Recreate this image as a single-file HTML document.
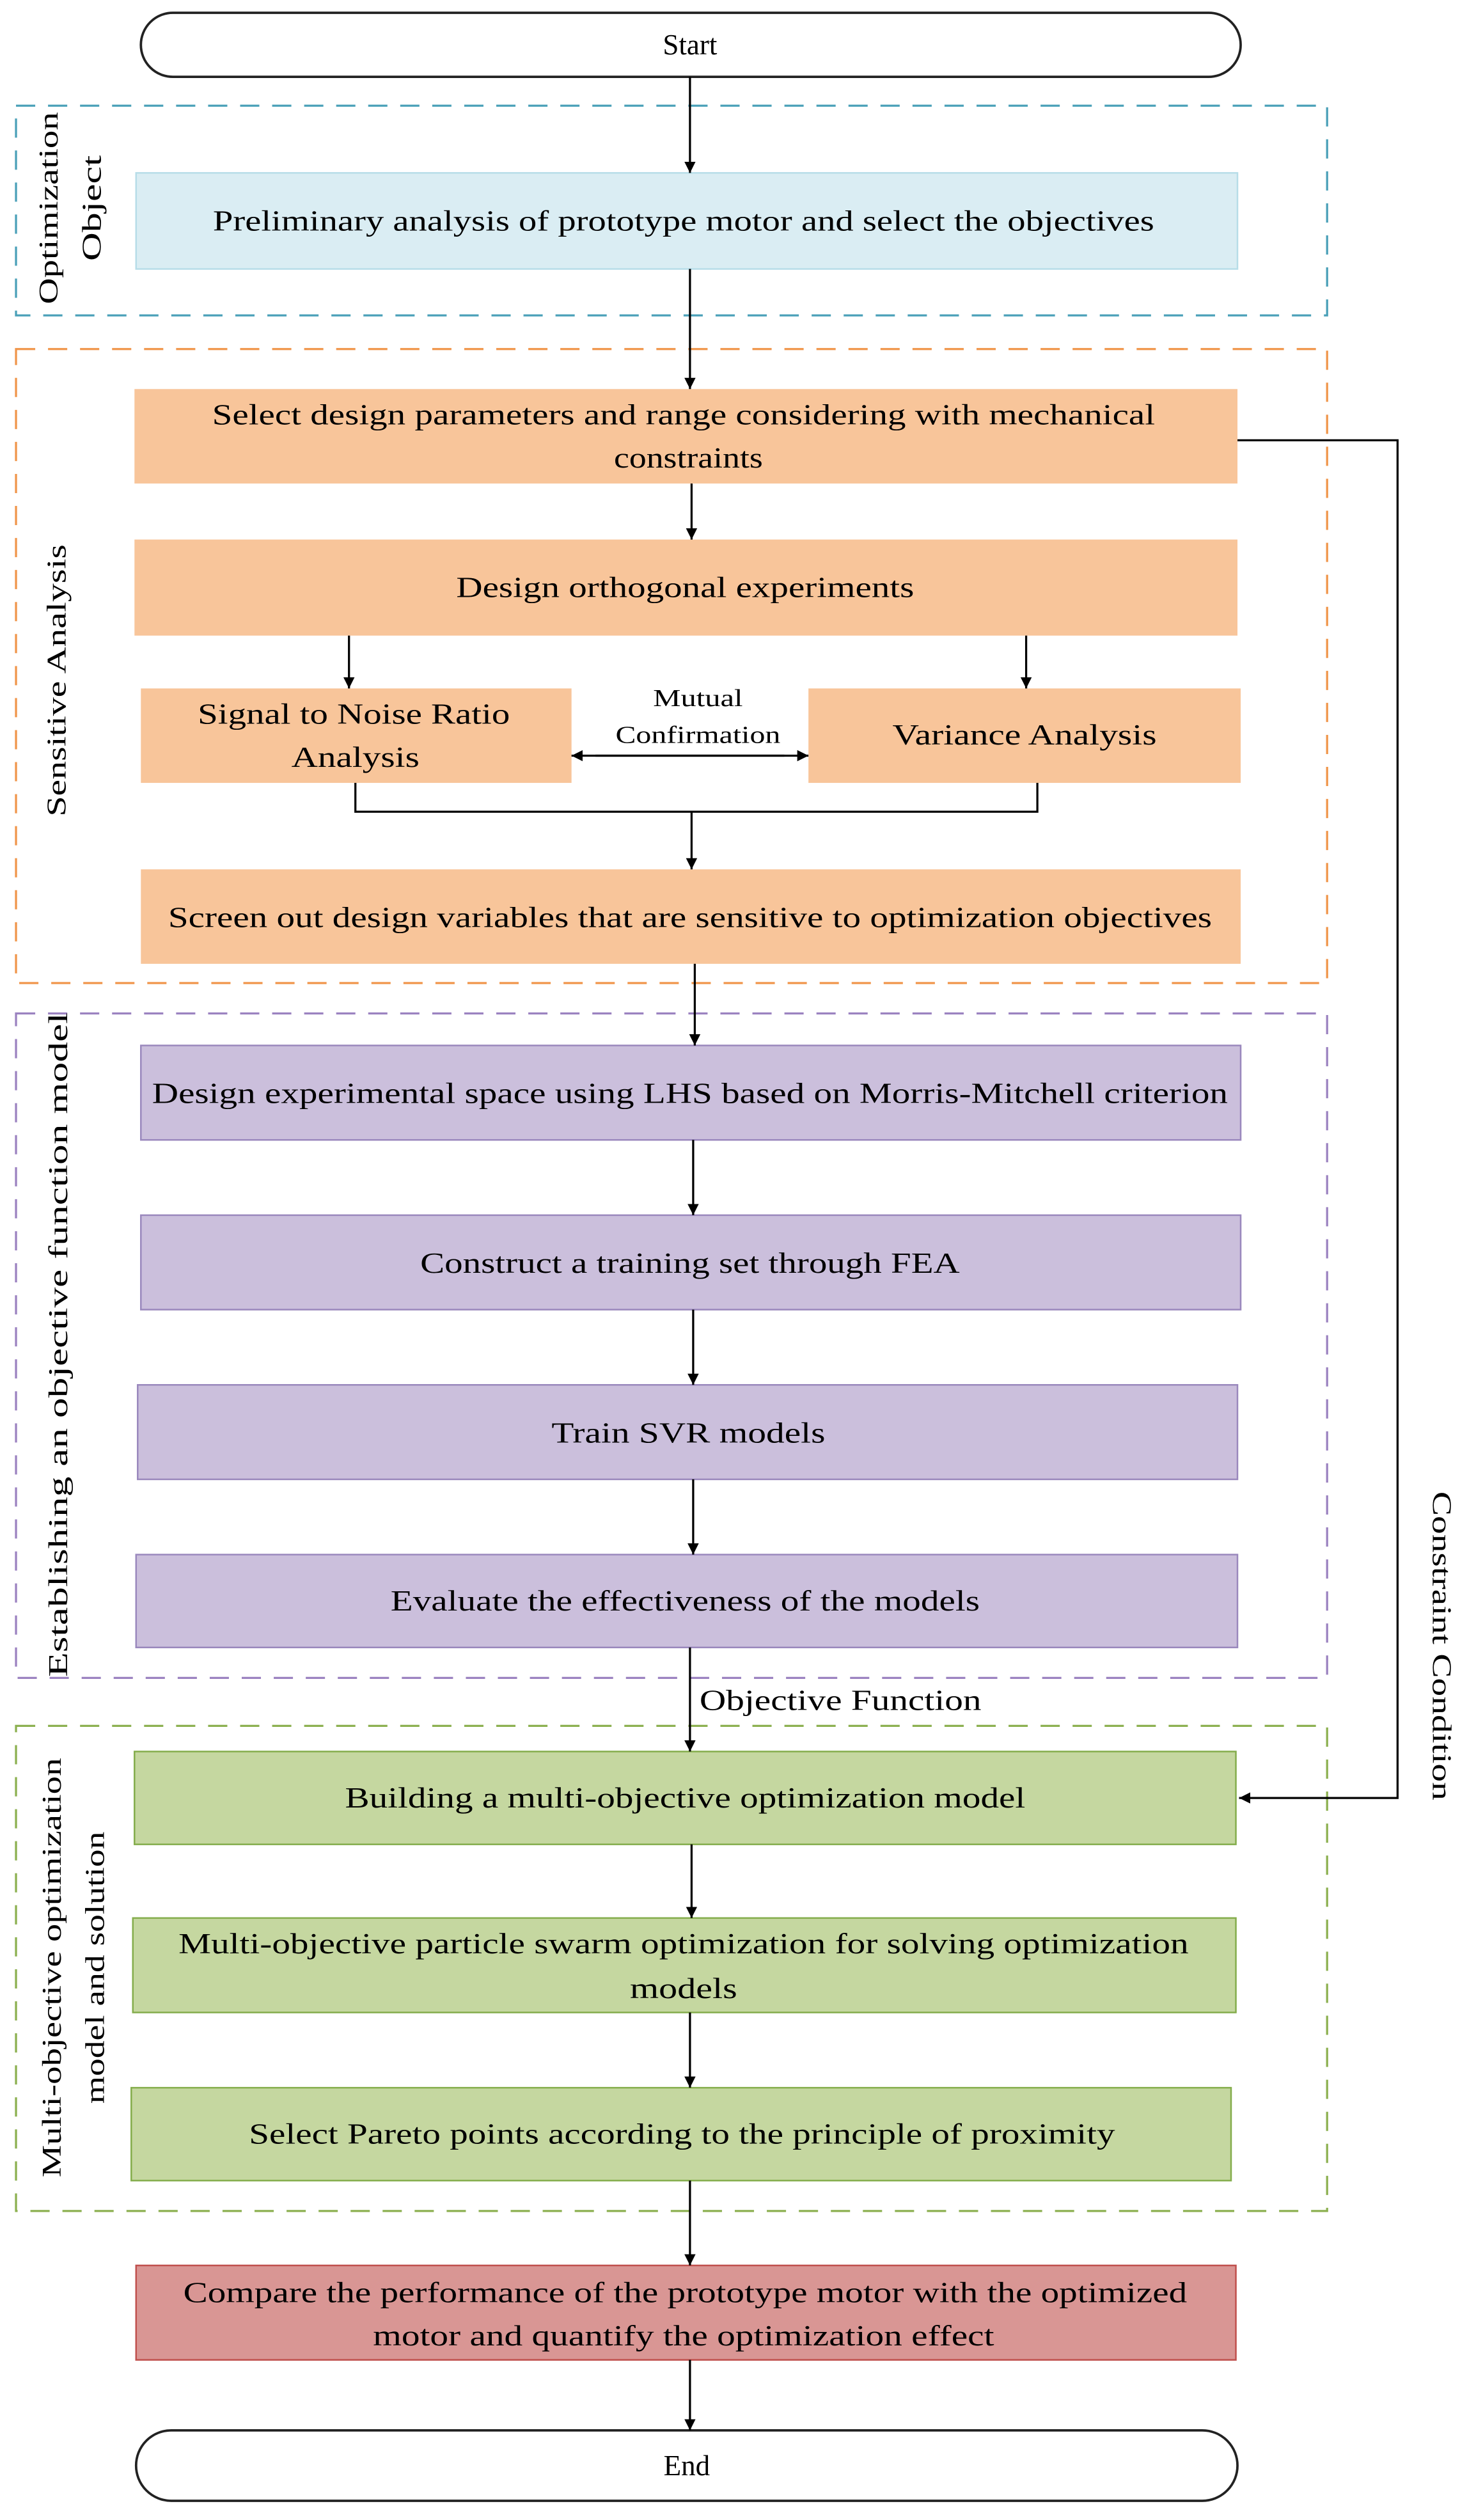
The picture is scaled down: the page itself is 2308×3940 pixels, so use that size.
<!DOCTYPE html>
<html><head><meta charset="utf-8"><style>html,body{margin:0;padding:0;background:#fff}svg{display:block}</style></head>
<body>
<svg width="2308" height="3940" viewBox="0 0 922 1574" preserveAspectRatio="none" xmlns="http://www.w3.org/2000/svg" font-family="Liberation Serif, serif" font-size="18" fill="#000">
<defs>
<marker id="a" viewBox="0 0 10 10" refX="10" refY="5" markerWidth="7" markerHeight="9" orient="auto" markerUnits="userSpaceOnUse"><path d="M0,0 L10,5 L0,10 z" fill="#000"/></marker>
</defs>
<!-- Start -->
<rect x="88" y="8" width="687" height="40" rx="20" fill="#fff" stroke="#222" stroke-width="1.5"/>
<text x="431" y="34" text-anchor="middle">Start</text>

<!-- groups -->
<g fill="none" stroke-width="1.3" stroke-dasharray="12,8">
<rect x="10" y="66" width="819" height="131" stroke="#4aa0b8"/>
<rect x="10" y="218" width="819" height="396" stroke="#f0954a"/>
<rect x="10" y="633" width="819" height="415" stroke="#9b82c0"/>
<rect x="10" y="1078" width="819" height="303" stroke="#8cb050"/>
</g>

<!-- boxes -->
<rect x="85" y="108" width="688" height="60" fill="#daedf3" stroke="#b7dde8"/>
<g fill="#f8c59a">
<rect x="84" y="243" width="689" height="59"/>
<rect x="84" y="337" width="689" height="60"/>
<rect x="88" y="430" width="269" height="59"/>
<rect x="505" y="430" width="270" height="59"/>
<rect x="88" y="543" width="687" height="59"/>
</g>
<g fill="#cbbfdc" stroke="#9a88bd">
<rect x="88" y="653" width="687" height="59"/>
<rect x="88" y="759" width="687" height="59"/>
<rect x="86" y="865" width="687" height="59"/>
<rect x="85" y="971" width="688" height="58"/>
</g>
<g fill="#c5d7a0" stroke="#84ad4c">
<rect x="84" y="1094" width="688" height="58"/>
<rect x="83" y="1198" width="689" height="59"/>
<rect x="82" y="1304" width="687" height="58"/>
</g>
<rect x="85" y="1415" width="687" height="59" fill="#d99694" stroke="#c0504d"/>
<rect x="85" y="1518" width="688" height="44" rx="22" fill="#fff" stroke="#222" stroke-width="1.5"/>

<!-- arrows -->
<g stroke="#000" stroke-width="1.3" fill="none" marker-end="url(#a)">
<line x1="431" y1="48" x2="431" y2="108"/>
<line x1="431" y1="168" x2="431" y2="243"/>
<line x1="432" y1="302" x2="432" y2="337"/>
<line x1="218" y1="397" x2="218" y2="430"/>
<line x1="641" y1="397" x2="641" y2="430"/>
<line x1="432" y1="507" x2="432" y2="543"/>
<line x1="434" y1="602" x2="434" y2="653"/>
<line x1="433" y1="712" x2="433" y2="759"/>
<line x1="433" y1="818" x2="433" y2="865"/>
<line x1="433" y1="924" x2="433" y2="971"/>
<line x1="431" y1="1029" x2="431" y2="1094"/>
<line x1="432" y1="1152" x2="432" y2="1198"/>
<line x1="431" y1="1257" x2="431" y2="1304"/>
<line x1="431" y1="1362" x2="431" y2="1415"/>
<line x1="431" y1="1474" x2="431" y2="1518"/>
<polyline points="773,275 873,275 873,1123 774,1123"/>
<line x1="372" y1="472" x2="505" y2="472"/>
<line x1="490" y1="472" x2="357" y2="472"/>
</g>
<polyline points="222,489 222,507 648,507 648,489" fill="none" stroke="#000" stroke-width="1.3"/>

<!-- box texts -->
<g text-anchor="middle" lengthAdjust="spacingAndGlyphs">
<text x="427" y="144" textLength="588" lengthAdjust="spacingAndGlyphs">Preliminary analysis of prototype motor and select the objectives</text>
<text x="427" y="265" textLength="589" lengthAdjust="spacingAndGlyphs">Select design parameters and range considering with mechanical</text>
<text x="430" y="292" textLength="93" lengthAdjust="spacingAndGlyphs">constraints</text>
<text x="428" y="373" textLength="286" lengthAdjust="spacingAndGlyphs">Design orthogonal experiments</text>
<text x="221" y="452" textLength="195" lengthAdjust="spacingAndGlyphs">Signal to Noise Ratio</text>
<text x="222" y="479" textLength="80" lengthAdjust="spacingAndGlyphs">Analysis</text>
<text x="436" y="441" font-size="15" textLength="56" lengthAdjust="spacingAndGlyphs">Mutual</text>
<text x="436" y="464" font-size="15" textLength="103" lengthAdjust="spacingAndGlyphs">Confirmation</text>
<text x="640" y="465" textLength="165" lengthAdjust="spacingAndGlyphs">Variance Analysis</text>
<text x="431" y="579" textLength="652" lengthAdjust="spacingAndGlyphs">Screen out design variables that are sensitive to optimization objectives</text>
<text x="431" y="689" textLength="672" lengthAdjust="spacingAndGlyphs">Design experimental space using LHS based on Morris-Mitchell criterion</text>
<text x="431" y="795" textLength="337" lengthAdjust="spacingAndGlyphs">Construct a training set through FEA</text>
<text x="430" y="901" textLength="171" lengthAdjust="spacingAndGlyphs">Train SVR models</text>
<text x="428" y="1006" textLength="368" lengthAdjust="spacingAndGlyphs">Evaluate the effectiveness of the models</text>
<text x="525" y="1068" textLength="176" lengthAdjust="spacingAndGlyphs">Objective Function</text>
<text x="428" y="1129" textLength="425" lengthAdjust="spacingAndGlyphs">Building a multi-objective optimization model</text>
<text x="427" y="1220" textLength="631" lengthAdjust="spacingAndGlyphs">Multi-objective particle swarm optimization for solving optimization</text>
<text x="427" y="1248" textLength="67" lengthAdjust="spacingAndGlyphs">models</text>
<text x="426" y="1339" textLength="541" lengthAdjust="spacingAndGlyphs">Select Pareto points according to the principle of proximity</text>
<text x="428" y="1438" textLength="627" lengthAdjust="spacingAndGlyphs">Compare the performance of the prototype motor with the optimized</text>
<text x="427" y="1465" textLength="388" lengthAdjust="spacingAndGlyphs">motor and quantify the optimization effect</text>
<text x="429" y="1546">End</text>
</g>

<!-- vertical labels -->
<g text-anchor="middle" font-size="17" lengthAdjust="spacingAndGlyphs">
<text transform="translate(36,130) rotate(-90)" textLength="120" lengthAdjust="spacingAndGlyphs">Optimization</text>
<text transform="translate(63,130) rotate(-90)" textLength="66" lengthAdjust="spacingAndGlyphs">Object</text>
<text transform="translate(41,425) rotate(-90)" textLength="170" lengthAdjust="spacingAndGlyphs">Sensitive Analysis</text>
<text transform="translate(42,840) rotate(-90)" textLength="415" lengthAdjust="spacingAndGlyphs">Establishing an objective function model</text>
<text transform="translate(38,1229) rotate(-90)" textLength="262" lengthAdjust="spacingAndGlyphs">Multi-objective optimization</text>
<text transform="translate(65,1229) rotate(-90)" textLength="170" lengthAdjust="spacingAndGlyphs">model and solution</text>
<text transform="translate(895,1028) rotate(90)" textLength="193" lengthAdjust="spacingAndGlyphs">Constraint Condition</text>
</g>
</svg>
</body></html>
